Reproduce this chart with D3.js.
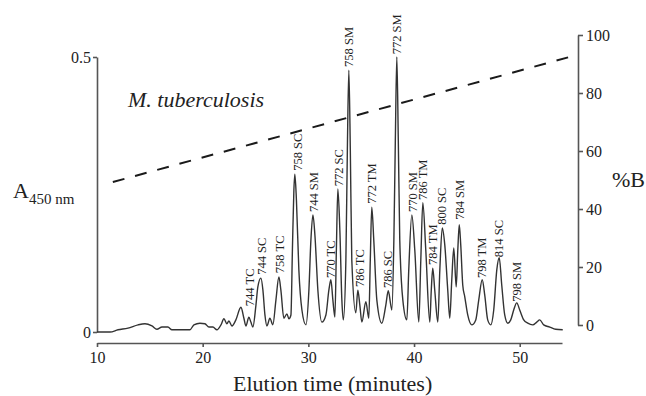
<!DOCTYPE html>
<html>
<head>
<meta charset="utf-8">
<script src="https://cdn.jsdelivr.net/npm/d3@7"></script>
<style>
  html, body { margin: 0; padding: 0; background: #fff; }
  svg { display: block; }
  svg text { font-family: "Liberation Serif", "Times New Roman", serif; }
</style>
</head>
<body>
<svg id="svg" width="646" height="396"></svg>
<script>
// chromatogram trace (minutes, absorbance at 450 nm)
const traceTime = [
  10.00, 11.23, 11.99, 12.93, 13.88, 14.54, 15.20, 15.67, 16.15, 16.71, 17.09, 18.79,
  19.17, 19.74, 20.21, 20.59, 20.97, 21.35, 21.73, 22.01, 22.29, 22.48, 22.77, 23.14,
  23.62, 23.90, 24.09, 24.37, 24.56, 24.75, 25.04, 25.22, 25.51, 25.70, 25.89, 26.08,
  26.36, 26.64, 26.93, 27.21, 27.40, 27.68, 27.97, 28.16, 28.35, 28.49, 28.63, 28.72,
  28.87, 29.10, 29.39, 29.77, 30.05, 30.24, 30.43, 30.62, 30.90, 31.28, 31.66, 31.94,
  32.13, 32.32, 32.51, 32.65, 32.79, 32.98, 33.17, 33.31, 33.55, 33.69, 33.83, 33.97,
  34.11, 34.49, 34.68, 34.87, 35.06, 35.44, 35.72, 35.86, 36.00, 36.19, 36.48, 36.95,
  37.33, 37.56, 37.80, 37.90, 38.09, 38.23, 38.37, 38.51, 38.65, 38.94, 39.32, 39.50,
  39.79, 40.07, 40.45, 40.64, 40.83, 41.11, 41.49, 41.63, 41.77, 41.96, 42.25, 42.44,
  42.67, 42.91, 43.19, 43.38, 43.57, 43.76, 43.99, 44.14, 44.28, 44.42, 44.61, 44.80,
  45.08, 45.46, 45.84, 46.12, 46.45, 46.69, 46.97, 47.26, 47.54, 47.83, 48.06, 48.30,
  48.58, 48.87, 49.15, 49.43, 49.72, 50.00, 50.38, 50.76, 51.23, 51.61, 51.89, 52.27,
  52.84, 53.40, 54.07
];
const traceAbs = [
  0.000, 0.000, 0.004, 0.007, 0.013, 0.015, 0.011, 0.005, 0.009, 0.009, 0.004, 0.004,
  0.013, 0.016, 0.015, 0.009, 0.009, 0.004, 0.013, 0.024, 0.015, 0.020, 0.011, 0.022,
  0.045, 0.025, 0.011, 0.027, 0.018, 0.009, 0.049, 0.082, 0.098, 0.076, 0.031, 0.011,
  0.025, 0.013, 0.058, 0.100, 0.076, 0.025, 0.033, 0.024, 0.031, 0.149, 0.258, 0.287,
  0.240, 0.113, 0.040, 0.013, 0.076, 0.167, 0.213, 0.176, 0.076, 0.018, 0.031, 0.076,
  0.095, 0.058, 0.027, 0.149, 0.260, 0.185, 0.058, 0.022, 0.131, 0.331, 0.476, 0.331,
  0.131, 0.035, 0.076, 0.049, 0.018, 0.055, 0.025, 0.131, 0.227, 0.167, 0.058, 0.016,
  0.049, 0.075, 0.049, 0.040, 0.167, 0.349, 0.500, 0.349, 0.167, 0.058, 0.022, 0.113,
  0.213, 0.149, 0.018, 0.131, 0.235, 0.149, 0.018, 0.076, 0.116, 0.076, 0.018, 0.113,
  0.189, 0.158, 0.076, 0.025, 0.095, 0.153, 0.082, 0.149, 0.195, 0.158, 0.085, 0.064,
  0.031, 0.013, 0.022, 0.058, 0.095, 0.067, 0.022, 0.013, 0.040, 0.113, 0.135, 0.085,
  0.031, 0.016, 0.022, 0.040, 0.053, 0.040, 0.022, 0.016, 0.013, 0.018, 0.022, 0.013,
  0.009, 0.005, 0.004
];

// gradient (%B), straight dashed line
const gradientTime = [11.5, 54.7];
const gradientB = [49.3, 92.4];

// peak annotations: label, time, absorbance where the label starts
const peakLabels = ["744 TC", "744 SC", "758 TC", "758 SC", "744 SM", "770 TC", "772 SC",
  "758 SM", "786 TC", "772 TM", "786 SC", "772 SM", "770 SM", "786 TM", "784 TM",
  "800 SC", "784 SM", "798 TM", "814 SC", "798 SM"];
const peakTimes = [24.47, 25.60, 27.31, 29.01, 30.52, 32.13, 32.88, 33.83, 34.87, 36.00,
  37.52, 38.37, 39.88, 40.83, 41.77, 42.62, 44.33, 46.41, 48.01, 49.72];
const peakLevels = [0.047, 0.104, 0.107, 0.293, 0.218, 0.098, 0.265, 0.482, 0.082, 0.233,
  0.080, 0.505, 0.218, 0.240, 0.122, 0.195, 0.204, 0.098, 0.136, 0.055];

const timeTicks = [10, 20, 30, 40, 50];
const absTicks = [0, 0.5];
const bTicks = [0, 20, 40, 60, 80, 100];

const svg = d3.select("svg");
const serif = "Liberation Serif, Times New Roman, serif";
const axisColor = "#555";
const textColor = "#222";

const x = d3.scaleLinear().domain([10, 54]).range([97, 562]);
const yA = d3.scaleLinear().domain([0, 0.5]).range([332, 57]);
const yB = d3.scaleLinear().domain([0, 100]).range([325, 35]);

function styleAxis(g) {
    g.attr("font-family", serif).attr("font-size", 16);
    g.selectAll("path, line").attr("stroke", axisColor).attr("stroke-width", 1.6);
    g.selectAll("text").attr("fill", textColor);
}

// bottom axis
svg.append("g")
    .attr("transform", "translate(0,343)")
    .call(d3.axisBottom(x).tickValues(timeTicks).tickSize(4).tickSizeOuter(0).tickPadding(5))
    .call(styleAxis);

// left axis (absorbance)
svg.append("g")
    .attr("transform", "translate(97,0)")
    .call(d3.axisLeft(yA).tickValues(absTicks).tickSize(4).tickSizeOuter(0).tickPadding(2)
        .tickFormat(d => d === 0 ? "0" : d3.format(".1f")(d)))
    .call(styleAxis);

// right axis (%B)
svg.append("g")
    .attr("transform", "translate(578,0)")
    .call(d3.axisRight(yB).tickValues(bTicks).tickSize(5).tickSizeOuter(0).tickPadding(3))
    .call(styleAxis);

// gradient line
const gradLine = d3.line()
    .x((d, i) => x(gradientTime[i]))
    .y((d, i) => yB(gradientB[i]));

svg.append("path")
    .datum(gradientTime)
    .attr("d", gradLine)
    .attr("fill", "none")
    .attr("stroke", "#1a1a1a")
    .attr("stroke-width", 2)
    .attr("stroke-dasharray", "12,11");

// chromatogram
const trace = d3.line()
    .x((d, i) => x(traceTime[i]))
    .y((d, i) => yA(traceAbs[i]))
    .curve(d3.curveMonotoneX);

svg.append("path")
    .datum(traceTime)
    .attr("d", trace)
    .attr("fill", "none")
    .attr("stroke", "#333")
    .attr("stroke-width", 1.4)
    .attr("stroke-linejoin", "round");

// peak labels, rotated
svg.append("g")
    .attr("font-family", serif)
    .selectAll("text")
    .data(peakLabels)
    .join("text")
    .attr("transform", (d, i) => "translate(" + x(peakTimes[i]) + "," + yA(peakLevels[i]) + ") rotate(-90)")
    .attr("dy", "0.35em")
    .attr("fill", textColor)
    .attr("font-size", 12.5)
    .text(d => d);

// titles
svg.append("text")
    .attr("x", x(32.3))
    .attr("y", 391)
    .attr("text-anchor", "middle")
    .attr("fill", textColor)
    .attr("font-size", 22)
    .text("Elution time (minutes)");

svg.append("text")
    .attr("x", 128)
    .attr("y", 107)
    .attr("fill", textColor)
    .attr("font-size", 22)
    .attr("font-style", "italic")
    .text("M. tuberculosis");

const aLabel = svg.append("text")
    .attr("x", 13)
    .attr("y", 198)
    .attr("fill", textColor)
    .attr("font-size", 22);
aLabel.append("tspan").text("A");
aLabel.append("tspan").attr("dy", 6).attr("font-size", 15).text("450 nm");

svg.append("text")
    .attr("x", 612)
    .attr("y", 187)
    .attr("fill", textColor)
    .attr("font-size", 22)
    .text("%B");
</script>
</body>
</html>
